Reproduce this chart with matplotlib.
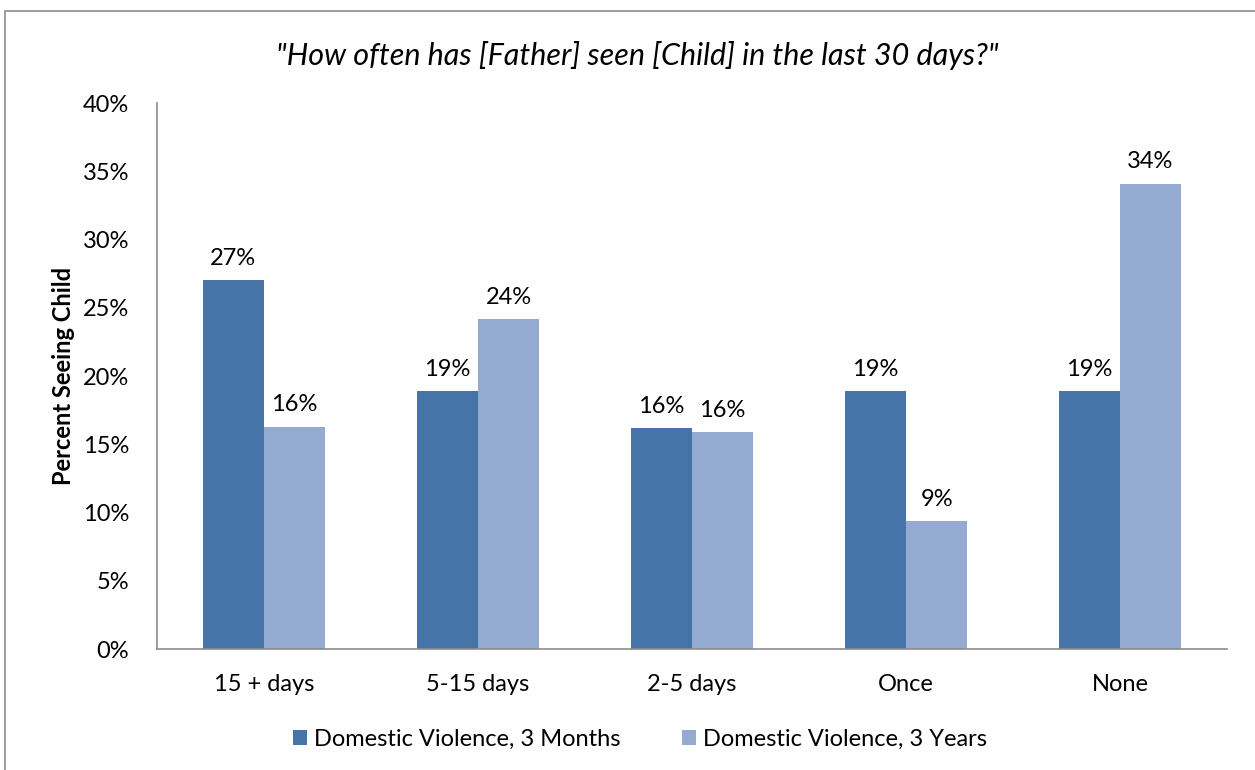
import matplotlib.pyplot as plt
import numpy as np
from matplotlib.patches import Rectangle

categories = ['15 + days', '5-15 days', '2-5 days', 'Once', 'None']
months_3 = [27.0, 18.9, 16.2, 18.9, 18.9]
years_3 = [16.3, 24.2, 15.9, 9.4, 34.1]
series_names = ['Domestic Violence, 3 Months', 'Domestic Violence, 3 Years']
y_ticks = [0, 5, 10, 15, 20, 25, 30, 35, 40]

dark = '#4674A9'
light = '#95AAD0'

plt.rcParams['font.family'] = ['Lato', 'DejaVu Sans']

fig = plt.figure(figsize=(12.55, 7.7), dpi=100)
ax = fig.add_axes([0.1251, 0.1571, 0.8526, 0.7091])

# outer chart frame like the excel chart area
fig.patches.append(Rectangle((0.004, -0.05), 1.2, 1.0357, transform=fig.transFigure,
                             fill=False, edgecolor='#8c8c8c', linewidth=1.2))

x = np.arange(len(categories))
w = 2 / 7  # gap width 150%
b1 = ax.bar(x - w / 2, months_3, w, color=dark, label=series_names[0])
b2 = ax.bar(x + w / 2, years_3, w, color=light, label=series_names[1])

for bars, vals in ((b1, months_3), (b2, years_3)):
    for rect, v in zip(bars, vals):
        ax.annotate('{:.0f}%'.format(v), (rect.get_x() + rect.get_width() / 2, v),
                    xytext=(0, 8), textcoords='offset points', ha='center', va='bottom',
                    fontsize=17)

ax.set_xlim(-0.5, len(categories) - 0.5)
ax.set_ylim(0, 40)
ax.set_yticks(y_ticks)
ax.set_yticklabels(['{}%'.format(t) for t in y_ticks], fontsize=17)
ax.set_xticks(x)
ax.set_xticklabels(categories, fontsize=17)
ax.tick_params(axis='both', length=0)
ax.tick_params(axis='y', pad=20)
ax.tick_params(axis='x', pad=18)

for s in ('top', 'right'):
    ax.spines[s].set_visible(False)
for s in ('left', 'bottom'):
    ax.spines[s].set_color('#8c8c8c')
    ax.spines[s].set_linewidth(1.2)

ax.set_ylabel('Percent Seeing Child', fontsize=17, fontweight='bold')
ax.yaxis.set_label_coords(-0.077, 0.5)

fig.text(0.508, 0.928, '"How often has [Father] seen [Child] in the last 30 days?"',
         ha='center', va='center', fontsize=22, style='italic')

fig.legend(handles=[b1, b2], loc='center', bbox_to_anchor=(0.51, 0.04), ncol=2,
           frameon=False, fontsize=17, handlelength=0.6, handleheight=0.6,
           handletextpad=0.3, columnspacing=2.6)

fig.savefig('out.png', dpi=100)
